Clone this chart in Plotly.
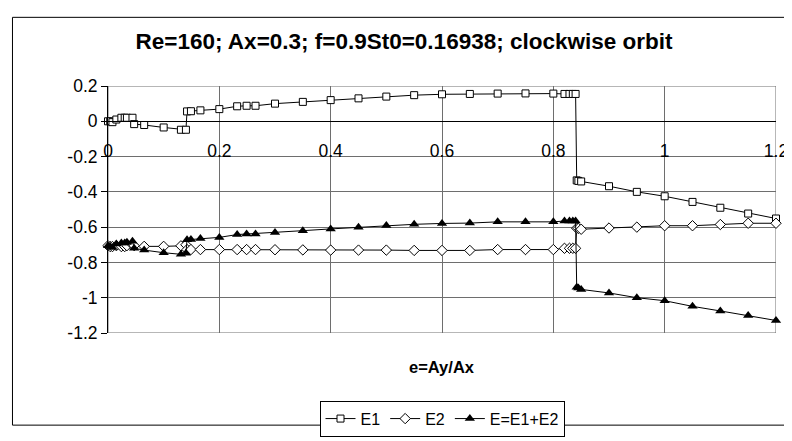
import plotly.graph_objects as go

# e = Ay/Ax values
e = [0, 0.004, 0.008, 0.015, 0.024, 0.03, 0.034, 0.044, 0.047, 0.065, 0.1, 0.131, 0.14,
     0.142, 0.149, 0.166, 0.2, 0.232, 0.249, 0.265, 0.3, 0.35, 0.4, 0.45, 0.5, 0.55, 0.6,
     0.65, 0.7, 0.75, 0.8, 0.82, 0.829, 0.835, 0.84, 0.842, 0.845, 0.85, 0.9, 0.95, 1.0,
     1.05, 1.1, 1.15, 1.2]

E1 = [0, 0, -0.005, 0.01, 0.02, 0.02, 0.02, 0.02, -0.016, -0.021, -0.035, -0.048, -0.048,
      0.056, 0.057, 0.062, 0.069, 0.085, 0.088, 0.088, 0.1, 0.11, 0.12, 0.13, 0.14, 0.148, 0.153,
      0.155, 0.157, 0.158, 0.157, 0.155, 0.155, 0.155, 0.155, -0.335, -0.338, -0.341, -0.368,
      -0.4, -0.425, -0.457, -0.49, -0.523, -0.551]

E2 = [-0.705, -0.71, -0.71, -0.705, -0.71, -0.71, -0.705, -0.70, -0.705, -0.709, -0.709,
      -0.706, -0.70, -0.727, -0.727, -0.727, -0.727, -0.727, -0.727, -0.727, -0.728, -0.729,
      -0.73, -0.73, -0.73, -0.732, -0.732, -0.732, -0.727, -0.727, -0.727, -0.72, -0.72,
      -0.72, -0.72, -0.606, -0.607, -0.612, -0.605, -0.6, -0.592, -0.592, -0.585, -0.578,
      -0.578]

E = [-0.705, -0.71, -0.715, -0.695, -0.69, -0.69, -0.685, -0.68, -0.72, -0.73, -0.745,
     -0.754, -0.748, -0.671, -0.67, -0.665, -0.658, -0.642, -0.639, -0.639, -0.63, -0.62,
     -0.61, -0.6, -0.59, -0.584, -0.579, -0.577, -0.57, -0.569, -0.57, -0.565, -0.565,
     -0.565, -0.565, -0.941, -0.945, -0.953, -0.973, -1.0, -1.017, -1.049, -1.075, -1.101,
     -1.129]

x_ticks = [0, 0.2, 0.4, 0.6, 0.8, 1, 1.2]
x_ticktext = ["0", "0.2", "0.4", "0.6", "0.8", "1", "1.2"]
y_ticks = [0.2, 0, -0.2, -0.4, -0.6, -0.8, -1, -1.2]
y_ticktext = ["0.2", "0", "-0.2", "-0.4", "-0.6", "-0.8", "-1", "-1.2"]

FONT = "Arial, 'Liberation Sans', sans-serif"
GRID = "#6e6e6e"

fig = go.Figure()
fig.add_trace(go.Scatter(
    x=e, y=E1, name="E1", mode="lines+markers", cliponaxis=False,
    line=dict(color="black", width=1),
    marker=dict(symbol="square", size=7, color="white", line=dict(color="black", width=1))))
fig.add_trace(go.Scatter(
    x=e, y=E2, name="E2", mode="lines+markers", cliponaxis=False,
    line=dict(color="black", width=1),
    marker=dict(symbol="diamond", size=8, color="white", line=dict(color="black", width=1))))
fig.add_trace(go.Scatter(
    x=e, y=E, name="E=E1+E2", mode="lines+markers", cliponaxis=False,
    line=dict(color="black", width=1),
    marker=dict(symbol="triangle-up", size=9, color="black", line=dict(color="black", width=0))))

# plot-area frame (gray) and outer chart border
fig.add_shape(type="rect", xref="x", yref="y", x0=0, x1=1.2, y0=-1.2, y1=0.2,
              line=dict(color=GRID, width=1), layer="below")
fig.add_shape(type="rect", xref="paper", yref="paper", x0=-0.143, x1=1.016,
              y0=-0.373, y1=1.278, line=dict(color="black", width=1), layer="below")

fig.update_layout(
    width=792, height=441,
    margin=dict(l=100, r=14, t=78, b=100),
    paper_bgcolor="white", plot_bgcolor="white",
    font=dict(family=FONT, size=16, color="black"),
    title=dict(text="<b>Re=160; Ax=0.3; f=0.9St0=0.16938; clockwise orbit</b>",
               x=0.5, xanchor="center", xref="container",
               y=1 - 33 / 441, yanchor="middle", yref="container",
               font=dict(family=FONT, size=22.5, color="black")),
    showlegend=True,
    legend=dict(orientation="h", x=0.5, xanchor="center", y=-0.274, yanchor="top",
                bordercolor="black", borderwidth=1, bgcolor="white",
                font=dict(family=FONT, size=16), itemwidth=30,
                traceorder="normal"),
    xaxis=dict(range=[0, 1.2], tickvals=x_ticks, ticktext=x_ticktext,
               anchor="free", position=1.2 / 1.4,
               showgrid=True, gridcolor=GRID, gridwidth=1,
               showline=True, linecolor="black", linewidth=1,
               zeroline=False, ticks="", ticklabelstandoff=14,
               tickfont=dict(family=FONT, size=17.5)),
    yaxis=dict(range=[-1.2, 0.2], tickvals=y_ticks, ticktext=y_ticktext,
               showgrid=True, gridcolor=GRID, gridwidth=1,
               showline=True, linecolor="black", linewidth=1,
               zeroline=False, ticks="outside", ticklen=6, tickcolor="black",
               tickfont=dict(family=FONT, size=17.5)),
    annotations=[dict(text="<b>e=Ay/Ax</b>", x=0.5, xref="paper", y=-0.137, yref="paper",
                      xanchor="center", yanchor="middle", showarrow=False,
                      font=dict(family=FONT, size=16.5, color="black"))],
)

fig.write_html("out.html")
